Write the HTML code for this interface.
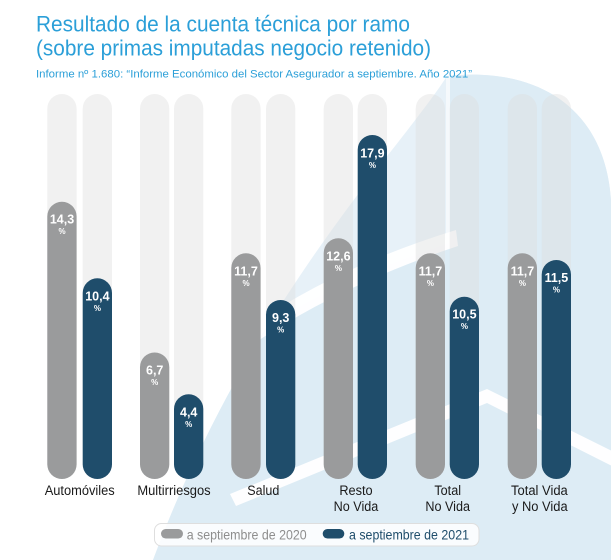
<!DOCTYPE html>
<html>
<head>
<meta charset="utf-8">
<style>
  html,body{margin:0;padding:0;background:#fff;}
  body{width:611px;height:560px;overflow:hidden;}
  svg{display:block;font-family:"Liberation Sans", Arial, sans-serif;}
</style>
</head>
<body>
<svg width="611" height="560" viewBox="0 0 611 560" xmlns="http://www.w3.org/2000/svg">
  <defs>
    <clipPath id="arch">
      <path d="M447,76 C540,66 605,110 611,200 L611,560 L153,560 C250,300 400,150 447,76 Z"/>
    </clipPath>
  </defs>

  <!-- watermark -->
  <path d="M447,76 C540,66 605,110 611,200 L611,560 L153,560 C250,300 400,150 447,76 Z" fill="#e7f1f8"/>
  <g clip-path="url(#arch)">
    <path d="M450,0 L611,0 L611,560 L0,560 L0,460 L200,372 Q300,292 450,243 Z" fill="#ddecf5"/>
    <!-- upper white band -->
    <path d="M150,400 L200,366 Q300,278 456,230 L458,246 Q305,297 205,380 L150,418 Z" fill="#ffffff" opacity="0.95"/>
    <!-- vertical thin line -->
    <rect x="446" y="70" width="4" height="170" fill="#ffffff" opacity="0.6"/>
    <!-- lower chevron -->
    <path d="M230,494 L487,389 L620,455 L620,470 L487,403 L236,506 Z" fill="#ffffff" opacity="0.95"/>
  </g>

  <!-- Title -->
  <text x="36" y="31.7" font-size="22" fill="#2b9fd8" textLength="374" lengthAdjust="spacingAndGlyphs">Resultado de la cuenta técnica por ramo</text>
  <text x="36" y="55.5" font-size="22" fill="#2b9fd8" textLength="395" lengthAdjust="spacingAndGlyphs">(sobre primas imputadas negocio retenido)</text>
  <text x="36" y="77.3" font-size="11" fill="#2b9fd8" textLength="436" lengthAdjust="spacingAndGlyphs">Informe nº 1.680: “Informe Económico del Sector Asegurador a septiembre. Año 2021”</text>

  <!-- tracks -->
  <g fill="rgb(222,222,222)" fill-opacity="0.42">
    <rect x="47.3" y="94" width="29.3" height="385" rx="14.65"/>
    <rect x="82.7" y="94" width="29.3" height="385" rx="14.65"/>
    <rect x="140" y="94" width="29.3" height="385" rx="14.65"/>
    <rect x="174" y="94" width="29.3" height="385" rx="14.65"/>
    <rect x="231.3" y="94" width="29.3" height="385" rx="14.65"/>
    <rect x="266" y="94" width="29.3" height="385" rx="14.65"/>
    <rect x="323.7" y="94" width="29.3" height="385" rx="14.65"/>
    <rect x="357.7" y="94" width="29.3" height="385" rx="14.65"/>
    <rect x="415.7" y="94" width="29.3" height="385" rx="14.65"/>
    <rect x="449.7" y="94" width="29.3" height="385" rx="14.65"/>
    <rect x="507.7" y="94" width="29.3" height="385" rx="14.65"/>
    <rect x="541.7" y="94" width="29.3" height="385" rx="14.65"/>
  </g>

  <!-- 2020 bars -->
  <g fill="#9a9b9c">
    <rect x="47.3" y="201.7" width="29.3" height="277.3" rx="14.65"/>
    <rect x="140" y="352.5" width="29.3" height="126.5" rx="14.65"/>
    <rect x="231.3" y="253.3" width="29.3" height="225.7" rx="14.65"/>
    <rect x="323.7" y="238.3" width="29.3" height="240.7" rx="14.65"/>
    <rect x="415.7" y="253.3" width="29.3" height="225.7" rx="14.65"/>
    <rect x="507.7" y="253.3" width="29.3" height="225.7" rx="14.65"/>
  </g>
  <!-- 2021 bars -->
  <g fill="#1f4d6b">
    <rect x="82.7" y="278.3" width="29.3" height="200.7" rx="14.65"/>
    <rect x="174" y="394.3" width="29.3" height="84.7" rx="14.65"/>
    <rect x="266" y="300" width="29.3" height="179" rx="14.65"/>
    <rect x="357.7" y="135" width="29.3" height="344" rx="14.65"/>
    <rect x="449.7" y="296.7" width="29.3" height="182.3" rx="14.65"/>
    <rect x="541.7" y="260" width="29.3" height="219" rx="14.65"/>
  </g>

  <!-- value labels -->
  <g font-weight="bold" text-anchor="middle" fill="#ffffff">
    <text x="62" y="223.7" font-size="12.5">14,3</text><text x="62" y="234.2" font-size="8">%</text>
    <text x="97.4" y="300.3" font-size="12.5">10,4</text><text x="97.4" y="310.8" font-size="8">%</text>
    <text x="154.7" y="374.5" font-size="12.5">6,7</text><text x="154.7" y="385" font-size="8">%</text>
    <text x="188.7" y="416.3" font-size="12.5">4,4</text><text x="188.7" y="426.8" font-size="8">%</text>
    <text x="246" y="275.3" font-size="12.5">11,7</text><text x="246" y="285.8" font-size="8">%</text>
    <text x="280.7" y="322" font-size="12.5">9,3</text><text x="280.7" y="332.5" font-size="8">%</text>
    <text x="338.4" y="260.3" font-size="12.5">12,6</text><text x="338.4" y="270.8" font-size="8">%</text>
    <text x="372.4" y="157.5" font-size="12.5">17,9</text><text x="372.4" y="168" font-size="8">%</text>
    <text x="430.4" y="275.3" font-size="12.5">11,7</text><text x="430.4" y="285.8" font-size="8">%</text>
    <text x="464.4" y="318.7" font-size="12.5">10,5</text><text x="464.4" y="329.2" font-size="8">%</text>
    <text x="522.4" y="275.3" font-size="12.5">11,7</text><text x="522.4" y="285.8" font-size="8">%</text>
    <text x="556.4" y="282" font-size="12.5">11,5</text><text x="556.4" y="292.5" font-size="8">%</text>
  </g>

  <!-- category labels -->
  <g font-size="13.5" fill="#1a1a1a" text-anchor="middle">
    <text x="79.7" y="495" textLength="70" lengthAdjust="spacingAndGlyphs">Automóviles</text>
    <text x="174" y="495" textLength="73.3" lengthAdjust="spacingAndGlyphs">Multirriesgos</text>
    <text x="263.3" y="495" textLength="32" lengthAdjust="spacingAndGlyphs">Salud</text>
    <text x="356" y="495" textLength="33.3" lengthAdjust="spacingAndGlyphs">Resto</text>
    <text x="356" y="511" textLength="44.7" lengthAdjust="spacingAndGlyphs">No Vida</text>
    <text x="447.7" y="495" textLength="26.7" lengthAdjust="spacingAndGlyphs">Total</text>
    <text x="447.7" y="511" textLength="44.7" lengthAdjust="spacingAndGlyphs">No Vida</text>
    <text x="539.4" y="495" textLength="56.7" lengthAdjust="spacingAndGlyphs">Total Vida</text>
    <text x="539.8" y="511" textLength="55.7" lengthAdjust="spacingAndGlyphs">y No Vida</text>
  </g>

  <!-- legend -->
  <rect x="154.5" y="523.5" width="324.5" height="22.5" rx="7" fill="#ffffff" fill-opacity="0.85" stroke="#dedede" stroke-width="1"/>
  <rect x="161" y="529" width="22" height="9.5" rx="4.75" fill="#9a9b9c"/>
  <text x="186.7" y="539.3" font-size="14" fill="#8e8e8e" textLength="120" lengthAdjust="spacingAndGlyphs">a septiembre de 2020</text>
  <rect x="322.7" y="529" width="21.6" height="9.5" rx="4.75" fill="#1f4d6b"/>
  <text x="349" y="539.3" font-size="14" fill="#1f4d6b" textLength="120" lengthAdjust="spacingAndGlyphs">a septiembre de 2021</text>
</svg>
</body>
</html>
